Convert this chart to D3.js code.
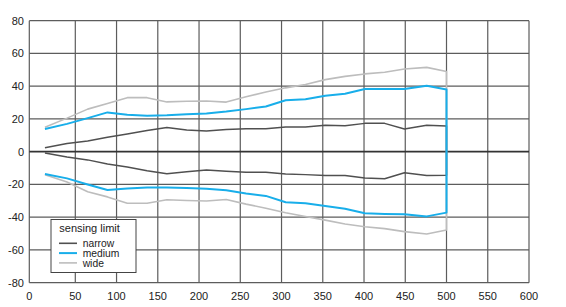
<!DOCTYPE html>
<html>
<head>
<meta charset="utf-8">
<script src="https://cdn.jsdelivr.net/npm/d3@7"></script>
<style>
  body { margin: 0; background: #fff; }
  text { font-family: "Liberation Sans", Arial, sans-serif; font-size: 11px; fill: #222; }
  .item text { font-size: 10.3px; }
</style>
</head>
<body>
<div id="chart"></div>
<script>
const positions = [17, 41, 65, 89, 113, 137, 161, 185, 209, 233, 257, 281, 305, 329, 353, 377, 401, 425, 449, 476, 500];

const narrowUpper = [2.4, 5, 6.5, 8.8, 10.8, 13, 14.8, 13.3, 12.7, 13.5, 14, 14, 15.1, 15.1, 16.1, 15.9, 17.3, 17.3, 13.9, 16.1, 15.7];
const narrowLower = [-0.8, -3.2, -5, -7.5, -9.4, -11.6, -13.4, -12.2, -11.2, -12, -12.6, -12.6, -13.6, -14, -14.6, -14.6, -16.1, -16.5, -12.8, -14.6, -14.4];
const mediumUpper = [13.9, 17, 20.5, 24, 22.6, 22, 22.2, 22.8, 23.3, 24.5, 26, 27.6, 31.4, 32, 34.2, 35.4, 38.3, 38.3, 38.3, 40.3, 38];
const mediumLower = [-13.6, -16.3, -20, -23.4, -22.5, -21.8, -21.8, -22.2, -22.6, -23.6, -25.5, -27, -30.9, -31.5, -33.2, -34.8, -37.6, -38, -38.2, -39.5, -37.2];
const wideUpper = [15, 20.5, 26, 29.5, 33, 33, 30.4, 30.8, 31, 30.3, 33.5, 36.5, 39, 41, 44, 46, 47.5, 48.5, 50.5, 51.5, 49];
const wideLower = [-14.1, -18.5, -24.4, -27.6, -31.5, -31.5, -29.3, -29.8, -30.1, -29.2, -32, -34.5, -37.3, -39.6, -41.8, -44.2, -45.8, -47, -48.8, -50.3, -47.8];

const xTicks = [0, 50, 100, 150, 200, 250, 300, 350, 400, 450, 500, 550, 600];
const yTicks = [80, 60, 40, 20, 0, -20, -40, -60, -80];
const seriesNames = ['narrow', 'medium', 'wide'];

const width = 566, height = 307;

const svg = d3.select('#chart').append('svg')
  .attr('width', width)
  .attr('height', height);

// the first grid column in the original is a bit wider than the rest
const x = d3.scaleLinear().domain([0, 50, 600]).range([29.3, 75.3, 529]);
const y = d3.scaleLinear().domain([-80, 80]).range([282.7, 20.7]);

// grid
svg.append('g')
  .selectAll('line')
  .data(xTicks)
  .join('line')
    .attr('x1', d => x(d)).attr('x2', d => x(d))
    .attr('y1', y(80)).attr('y2', y(-80))
    .attr('stroke', '#5c5c5c')
    .attr('stroke-width', 1.2);

svg.append('g')
  .selectAll('line')
  .data(yTicks)
  .join('line')
    .attr('x1', x(0)).attr('x2', x(600))
    .attr('y1', d => y(d)).attr('y2', d => y(d))
    .attr('stroke', d => d === 0 ? '#333' : '#5c5c5c')
    .attr('stroke-width', d => d === 0 ? 1.8 : 1.2);

// tick labels
svg.append('g')
  .selectAll('text')
  .data(yTicks)
  .join('text')
    .attr('x', 24)
    .attr('y', d => y(d))
    .attr('dy', '0.35em')
    .attr('text-anchor', 'end')
    .text(d => d);

svg.append('g')
  .selectAll('text')
  .data(xTicks)
  .join('text')
    .attr('x', d => x(d))
    .attr('y', 299.5)
    .attr('text-anchor', 'middle')
    .text(d => d);

// each limit is a closed outline: upper edge, down at 500, lower edge back
function outline(upper, lower) {
  const up = positions.map((p, i) => [p, upper[i]]);
  const down = positions.map((p, i) => [p, lower[i]]).reverse();
  return up.concat(down);
}

const series = [
  { name: 'wide', pts: outline(wideUpper, wideLower), color: '#bdbdbd', w: 1.6 },
  { name: 'narrow', pts: outline(narrowUpper, narrowLower), color: '#505050', w: 1.5 },
  { name: 'medium', pts: outline(mediumUpper, mediumLower), color: '#18aeea', w: 2 }
];

const line = d3.line()
  .x(d => x(d[0]))
  .y(d => y(d[1]));

svg.append('g')
  .selectAll('path')
  .data(series)
  .join('path')
    .attr('d', d => line(d.pts))
    .attr('fill', 'none')
    .attr('stroke', d => d.color)
    .attr('stroke-width', d => d.w)
    .attr('stroke-linejoin', 'round');

// legend
const legendColors = { narrow: '#505050', medium: '#18aeea', wide: '#bdbdbd' };
const legend = svg.append('g').attr('transform', 'translate(51,219.5)');

legend.append('rect')
  .attr('width', 85)
  .attr('height', 53)
  .attr('fill', '#fff')
  .attr('stroke', '#444')
  .attr('stroke-width', 1);

legend.append('text')
  .attr('x', 8.3)
  .attr('y', 12.2)
  .text('sensing limit');

const items = legend.selectAll('g.item')
  .data(seriesNames)
  .join('g')
    .attr('class', 'item')
    .attr('transform', (d, i) => `translate(0, ${23.8 + i * 9.8})`);

items.append('line')
  .attr('x1', 8).attr('x2', 26)
  .attr('stroke', d => legendColors[d])
  .attr('stroke-width', d => d === 'medium' ? 2 : 1.6);

items.append('text')
  .attr('x', 31.7)
  .attr('dy', '0.35em')
  .text(d => d);
</script>
</body>
</html>
